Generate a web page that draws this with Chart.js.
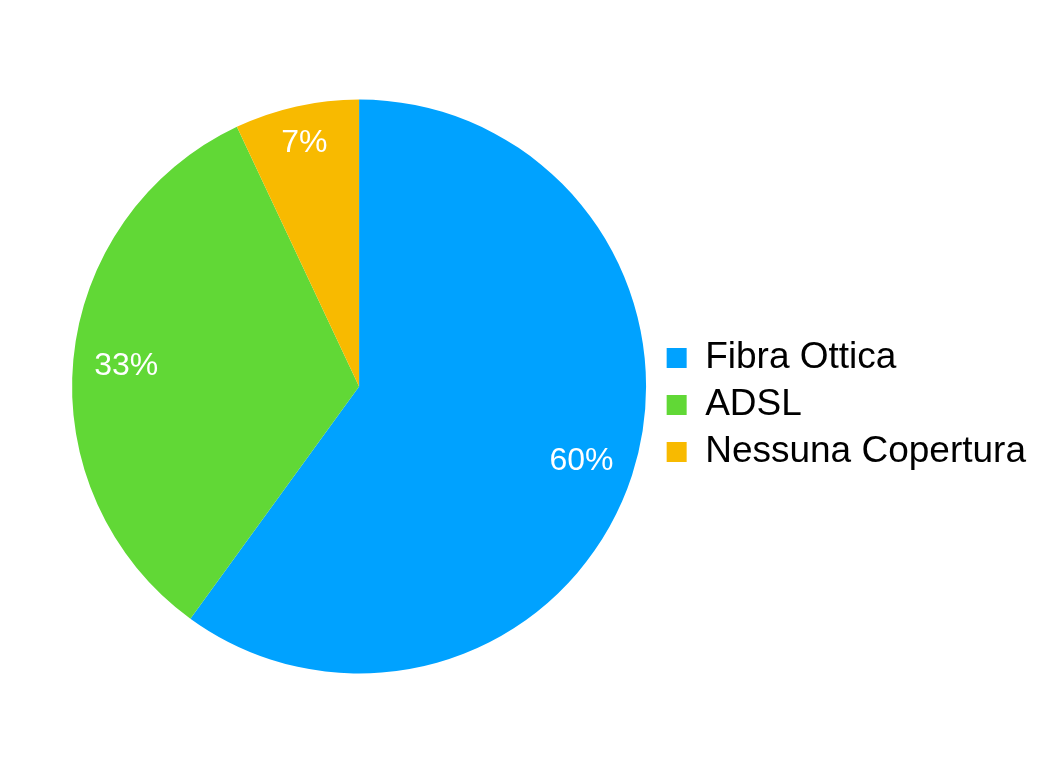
<!DOCTYPE html>
<html>
<head>
<meta charset="utf-8">
<script src="https://cdn.jsdelivr.net/npm/chart.js@4/dist/chart.umd.min.js"></script>
<style>
  html, body { margin: 0; padding: 0; background: #ffffff; }
  #wrap { width: 1038px; height: 773px; }
</style>
</head>
<body>
<div id="wrap"><canvas id="torta" width="1038" height="773"></canvas></div>
<script>
// dati della torta
const categorie = ['Fibra Ottica', 'ADSL', 'Nessuna Copertura'];
const percentuali = [60, 33, 7];
const colori = ['#00A2FF', '#61D836', '#F8BA00'];

// scrive le percentuali dentro le fette
const etichettePlugin = {
    id: 'etichette',
    afterDatasetsDraw(chart) {
        const ctx = chart.ctx;
        const meta = chart.getDatasetMeta(0);
        ctx.save();
        ctx.fillStyle = '#ffffff';
        ctx.font = '32px "Liberation Sans", Arial, sans-serif';
        ctx.textAlign = 'center';
        ctx.textBaseline = 'middle';
        meta.data.forEach((arc, i) => {
            const p = arc.getProps(['x', 'y', 'startAngle', 'endAngle', 'outerRadius']);
            const medio = (p.startAngle + p.endAngle) / 2;
            const quota = (p.endAngle - p.startAngle) < 0.6 ? 0.875 : 0.815;
            const r = p.outerRadius * quota;
            // +2 per centrare otticamente le cifre
            ctx.fillText(percentuali[i] + '%', p.x + Math.cos(medio) * r, p.y + Math.sin(medio) * r + 2);
        });
        ctx.restore();
    }
};

const ctx = document.getElementById('torta').getContext('2d');

new Chart(ctx, {
    type: 'pie',
    data: {
        labels: categorie,
        datasets: [{
            data: percentuali,
            backgroundColor: colori,
            borderColor: colori,
            borderWidth: 0
        }]
    },
    options: {
        responsive: false,
        animation: false,
        radius: 287,
        layout: { padding: { left: 61.5, right: 2, top: 0, bottom: 0 } },
        plugins: {
            tooltip: { enabled: false },
            legend: {
                position: 'right',
                align: 'center',
                // titolo vuoto: serve solo ad abbassare la legenda
                title: { display: true, text: '', font: { size: 10 }, padding: { top: 25, bottom: 0 } },
                labels: {
                    color: '#000000',
                    boxWidth: 20,
                    boxHeight: 20,
                    padding: 10,
                    font: { family: '"Liberation Sans", Arial, sans-serif', size: 37 }
                }
            }
        }
    },
    plugins: [etichettePlugin]
});
</script>
</body>
</html>
